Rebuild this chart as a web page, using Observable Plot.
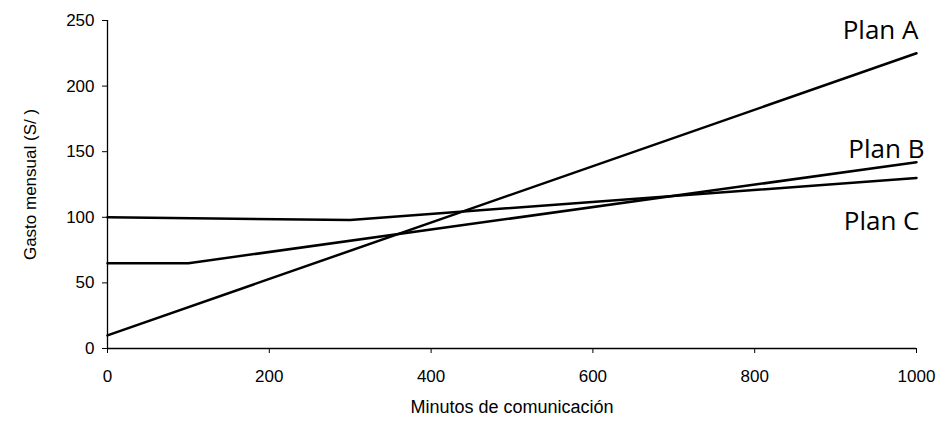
<!DOCTYPE html>
<html><head><meta charset="utf-8">
<script src="https://cdn.jsdelivr.net/npm/d3@7"></script>
<script src="https://cdn.jsdelivr.net/npm/@observablehq/plot@0.6"></script>
<style>body{margin:0;background:#fff}</style>
</head><body><div id="chart"></div>
<script>
const planNames = ["Plan A", "Plan B", "Plan C"];
const minutesA = [0, 1000];
const costA = [10, 225];
const minutesB = [0, 100, 1000];
const costB = [65, 65, 142];
const minutesC = [0, 300, 1000];
const costC = [100, 98, 130];
const xTicks = [0, 200, 400, 600, 800, 1000];
const yTicks = [0, 50, 100, 150, 200, 250];
const xLabel = "Minutos de comunicación";
const yLabel = "Gasto mensual (S/ )";

const series = [[minutesA, costA], [minutesB, costB], [minutesC, costC]];
const rows = series.flatMap(([xs, ys], i) => xs.map((x, j) => ({plan: planNames[i], x, y: ys[j]})));
const ends = planNames.map(p => rows.filter(r => r.plan === p).at(-1));
const labelOffsets = {"Plan A": [2, -14], "Plan B": [8, -4], "Plan C": [3, 52]};

const chart = Plot.plot({
  width: 940, height: 428,
  marginLeft: 107, marginRight: 24, marginTop: 20, marginBottom: 80,
  style: {fontFamily: "'Liberation Sans', Arial, sans-serif", fontSize: "17px", color: "#000", background: "#fff"},
  x: {domain: [0, 1000]},
  y: {domain: [0, 250]},
  marks: [
    Plot.axisX({ticks: xTicks, tickFormat: d3.format("d"), tickSize: 5, tickPadding: 16, fontSize: 17, label: null}),
    Plot.axisX({ticks: [], label: xLabel, labelAnchor: "center", labelArrow: "none", labelOffset: 64, fontSize: 18}),
    Plot.axisY({ticks: yTicks, tickSize: 5, tickPadding: 8, label: yLabel, labelAnchor: "center", labelArrow: "none", labelOffset: 84, fontSize: 17}),
    Plot.ruleX([0], {stroke: "#000", strokeWidth: 1.3}),
    Plot.ruleY([0], {stroke: "#000", strokeWidth: 1.3}),
    Plot.line(rows, {x: "x", y: "y", z: "plan", stroke: "#000", strokeWidth: 2.5}),
    ...planNames.map(p => Plot.text(ends.filter(d => d.plan === p), {
      x: "x", y: "y", text: "plan", textAnchor: "end", lineAnchor: "bottom",
      dx: labelOffsets[p][0], dy: labelOffsets[p][1],
      fontFamily: "'Open Sans', sans-serif", fontSize: 26, fill: "#000"
    }))
  ]
});
document.getElementById("chart").appendChild(chart);
</script>
</body></html>
